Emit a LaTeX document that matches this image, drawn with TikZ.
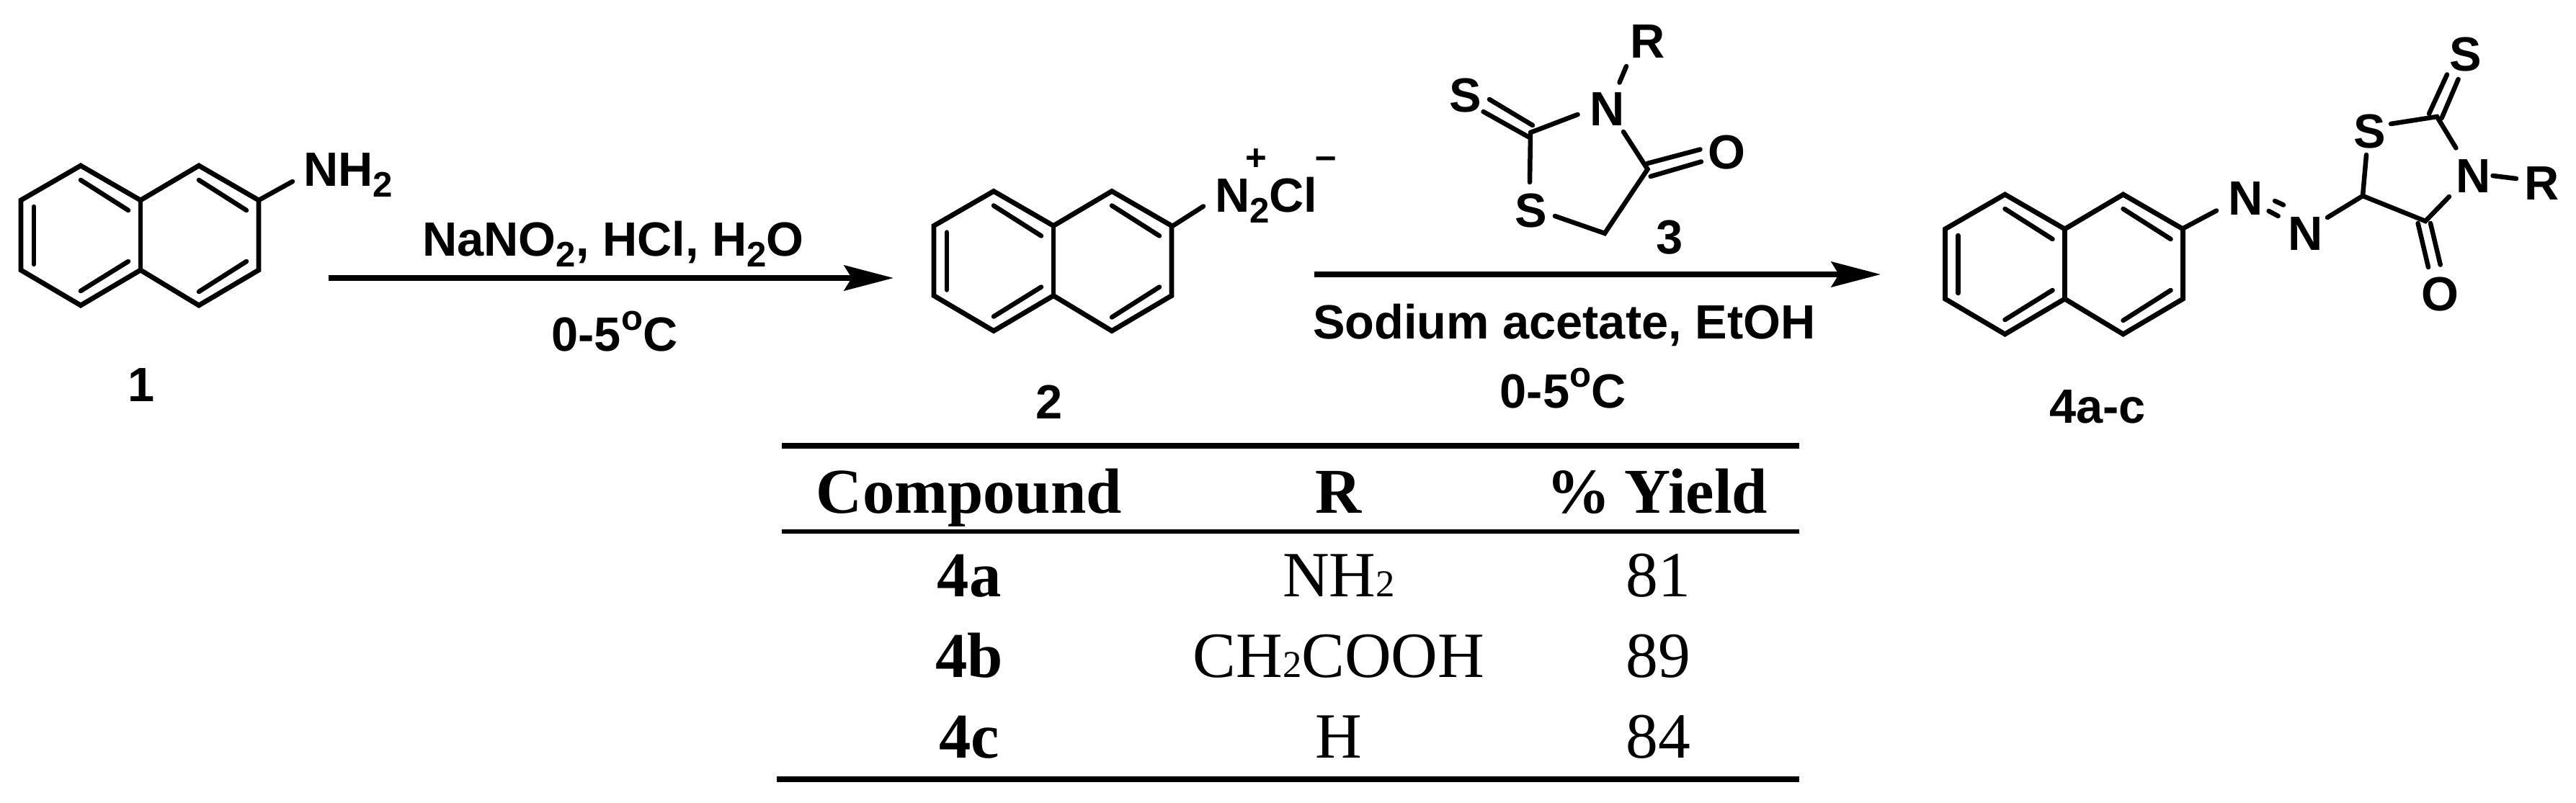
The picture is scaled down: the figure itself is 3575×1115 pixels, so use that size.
\documentclass[tikz,border=0pt]{standalone}
\usepackage{fontspec}
\setmainfont{Liberation Sans}
\newfontfamily\tblfont{Liberation Serif}
\usetikzlibrary{arrows.meta}
\newcommand{\subtwo}{\raisebox{-9pt}{\fontsize{28}{28}\selectfont 2}}
\newcommand{\tsub}{{\fontsize{30}{30}\selectfont 2}}
\newcommand{\degC}{0-5\raisebox{16.5pt}{\fontsize{28}{28}\selectfont o}C}
\newcommand{\naphthyl}[2]{%
  \begin{scope}[shift={(#1,#2)}]
    \draw[ring] (83,0) -- (166,48) -- (247,0) -- (330,48) -- (330,145) -- (247,194) -- (166,145) -- (83,194) -- (0,145) -- (0,48) -- cycle;
    \draw[ring] (166,48) -- (166,145);
    \draw[bond] (18,57) -- (18,137);
    \draw[bond] (83,20) -- (149,62);
    \draw[bond] (149,133) -- (83,174);
    \draw[bond] (247,20) -- (313,62);
    \draw[bond] (313,133) -- (247,175);
  \end{scope}}
\tikzset{
  bond/.style={line width=3.7pt,line cap=round,line join=miter},
  ring/.style={line width=3.9pt,line join=miter,miter limit=10},
  lbl/.style={anchor=base west,inner sep=0pt,outer sep=0pt,font=\fontsize{38}{38}\selectfont\bfseries},
  ctext/.style={anchor=base,inner sep=0pt,outer sep=0pt,font=\fontsize{38}{38}\selectfont\bfseries},
  thead/.style={anchor=base,inner sep=0pt,outer sep=0pt,font=\tblfont\fontsize{50.5}{50.5}\selectfont\bfseries},
  tcell/.style={anchor=base,inner sep=0pt,outer sep=0pt,font=\tblfont\fontsize{51}{51}\selectfont},
  trule/.style={line width=#1},
  rxn/.style={line width=4pt,-{Stealth[length=39pt,width=20pt,inset=6pt]}}
}
\begin{document}
\begin{tikzpicture}[x=0.02cm,y=-0.02cm]
\useasboundingbox (0,0) rectangle (3575,1115);
\fill[white] (0,0) rectangle (3575,1115);

% naphthalene units
\naphthyl{29}{230}
\naphthyl{1296}{265.5}
\naphthyl{2699.5}{270}

% compound 1
\node[lbl] (nh2) at (421,258) {NH\subtwo};
\coordinate (c1) at (359,278);
\draw[bond] (c1) -- (406,252);
\node[ctext] (n1) at (196,557) {1};

% arrow 1
\coordinate (a1s) at (456,386);
\coordinate (a1e) at (1240,386);
\draw[rxn] (a1s) -- (a1e);
\node[ctext] (r1) at (851,355) {NaNO\subtwo, HCl, H\subtwo O};
\node[ctext] (t1) at (853,487) {\degC};

% compound 2
\coordinate (c2) at (1627,314);
\draw[bond] (c2) -- (1670,286.5);
\node[lbl] (n2cl) at (1686,294) {N\subtwo Cl};
\node[ctext,font=\fontsize{29}{29}\selectfont\bfseries] (plus) at (1743,236) {+};
\node[ctext,font=\fontsize{30}{30}\selectfont\bfseries] (minus) at (1840,234) {–};
\node[ctext] (n2) at (1456,581) {2};

% compound 3
\node[lbl] (r3) at (2262,81) {R};
\node[lbl] (n3) at (2206,174) {N};
\node[lbl] (s3a) at (2011,155) {S};
\node[lbl] (s3b) at (2102,315) {S};
\node[lbl] (o3) at (2370,234) {O};
\node[ctext] (n3l) at (2317,352) {3};
\coordinate (c3a) at (2124,184);
\coordinate (c3b) at (2227,324);
\coordinate (c3c) at (2286.5,235);
\draw[bond] (2257,92) -- (2247.5,114.6);
\draw[bond] (2067,138) -- (2127,174);
\draw[bond] (2058.5,155) -- (2121,190);
\draw[bond] (c3a) -- (2189.5,159);
\draw[bond] (c3a) -- (2123,253);
\draw[bond] (2158,300) -- (c3b) -- (c3c) -- (2253,183);
\draw[bond] (2286,227) -- (2359.5,207.5);
\draw[bond] (2290.6,245) -- (2361,224.5);

% arrow 2
\coordinate (a2s) at (1824,381);
\coordinate (a2e) at (2610,381);
\draw[rxn] (a2s) -- (a2e);
\node[lbl] (r2) at (1822,470) {Sodium acetate, EtOH};
\node[ctext] (t2) at (2169,566) {\degC};

% compound 4
\coordinate (c4) at (3030,317);
\draw[bond] (c4) -- (3076,292.5);
\node[lbl] (n4a) at (3092,298) {N};
\draw[bond] (3157,279) -- (3169,284.6);
\draw[bond] (3148.5,293) -- (3161.6,300);
\node[lbl] (n4b) at (3175,347) {N};
\coordinate (c4a) at (3279,272);
\coordinate (c4b) at (3366,307);
\coordinate (c4c) at (3382,162);
\draw[bond] (3230,302) -- (c4a) -- (3284,215);
\node[lbl] (s4a) at (3266.5,205) {S};
\draw[bond] (3318,172) -- (c4c) -- (3408.4,205.5);
\draw[bond] (3371,158) -- (3396,103.5);
\draw[bond] (3388.6,164) -- (3411.6,110);
\node[lbl] (s4b) at (3399,99) {S};
\node[lbl] (n4c) at (3408,267) {N};
\draw[bond] (3459.5,244) -- (3492,248);
\node[lbl] (r4) at (3503,277) {R};
\draw[bond] (c4a) -- (c4b) -- (3399,273);
\draw[bond] (3355.6,310) -- (3370,371);
\draw[bond] (3373,310) -- (3386.7,367.6);
\node[lbl] (o4) at (3360,431) {O};
\node[ctext] (n4l) at (2911,587) {4a-c};

% table
\coordinate (t1l) at (1085,619); \coordinate (t1r) at (2497,619);
\coordinate (t2l) at (1085,738); \coordinate (t2r) at (2497,738);
\coordinate (t3l) at (1078,1082); \coordinate (t3r) at (2497,1082);
\draw[trule=5pt] (t1l) -- (t1r);
\draw[trule=3pt] (t2l) -- (t2r);
\draw[trule=5pt] (t3l) -- (t3r);
\node[thead] (h1) at (1345,712) {Compound};
\node[thead] (h2) at (1858,712) {R};
\node[thead] (h3) at (2300,712) {\%\hspace{-2pt} Yield};
\node[thead] (a1) at (1345,828) {4a};
\node[tcell] (a2) at (1858,828) {NH\tsub};
\node[tcell] (a3) at (2301,828) {81};
\node[thead] (b1) at (1345,940) {4b};
\node[tcell] (b2) at (1858,940) {CH\tsub COOH};
\node[tcell] (b3) at (2301,940) {89};
\node[thead] (c1t) at (1345,1052) {4c};
\node[tcell] (c2t) at (1858,1052) {H};
\node[tcell] (c3t) at (2301,1052) {84};
\end{tikzpicture}
\end{document}
